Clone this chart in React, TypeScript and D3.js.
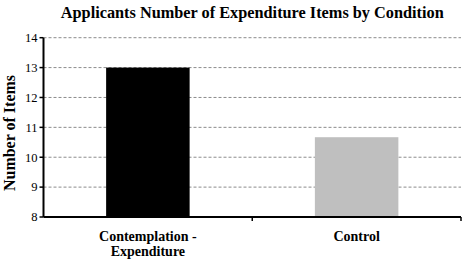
import React from "react";
import * as d3 from "d3";

const categories = ["Contemplation - Expenditure", "Control"];
const categoryLines = [["Contemplation -", "Expenditure"], ["Control"]];
const values = [13, 10.67];
const barColors = ["#000000", "#bfbfbf"];
const yTicks = [8, 9, 10, 11, 12, 13, 14];
const title = "Applicants Number of Expenditure Items by Condition";
const yTitle = "Number of Items";

const W = 462, H = 261;
const left = 43.5, right = 461, top = 37.7, bottom = 217;

export default function App() {
  const x = d3.scaleBand<string>().domain(categories).range([left, right]).paddingInner(0.6).paddingOuter(0.3);
  const band = d3.scaleBand<string>().domain(categories).range([left, right]);
  const y = d3.scaleLinear().domain([8, 14]).range([bottom, top]);
  const font = "'Liberation Serif', 'Times New Roman', serif";
  return (
    <svg width={W} height={H} style={{ position: "absolute", left: 0, top: 0, background: "#fff" }} fontFamily={font}>
      <text x={(left + right) / 2} y={18} textAnchor="middle" fontWeight="bold" fontSize={16.3}>{title}</text>
      {yTicks.slice(1).map((t) => (
        <line key={t} x1={left} x2={right} y1={y(t)} y2={y(t)} stroke="#8c8c8c" strokeWidth={1} strokeDasharray="3,2" />
      ))}
      {categories.map((c, i) => (
        <rect key={c} x={x(c)} width={x.bandwidth()} y={y(values[i])} height={y(8) - y(values[i])} fill={barColors[i]} />
      ))}
      <line x1={left} x2={left} y1={top} y2={bottom} stroke="#000" strokeWidth={2} />
      <line x1={left} x2={right} y1={bottom} y2={bottom} stroke="#000" strokeWidth={2} />
      {yTicks.map((t) => (
        <g key={t}>
          <line x1={left - 4} x2={left} y1={y(t)} y2={y(t)} stroke="#000" strokeWidth={1.5} />
          <text x={left - 6} y={y(t)} dy="0.35em" textAnchor="end" fontSize={12.5}>{t}</text>
        </g>
      ))}
      {categories.map((c) => (
        <line key={c} x1={(band(c) as number) + band.bandwidth()} x2={(band(c) as number) + band.bandwidth()} y1={bottom} y2={bottom + 4} stroke="#000" strokeWidth={1.5} />
      ))}
      {categories.map((c, i) => (
        <text key={c} x={(x(c) as number) + x.bandwidth() / 2} y={240.5} textAnchor="middle" fontWeight="bold" fontSize={14}>
          {categoryLines[i].map((l, j) => (
            <tspan key={j} x={(x(c) as number) + x.bandwidth() / 2} dy={j === 0 ? 0 : 15.5}>{l}</tspan>
          ))}
        </text>
      ))}
      <text transform={`translate(15,133) rotate(-90)`} textAnchor="middle" fontWeight="bold" fontSize={16}>{yTitle}</text>
    </svg>
  );
}
